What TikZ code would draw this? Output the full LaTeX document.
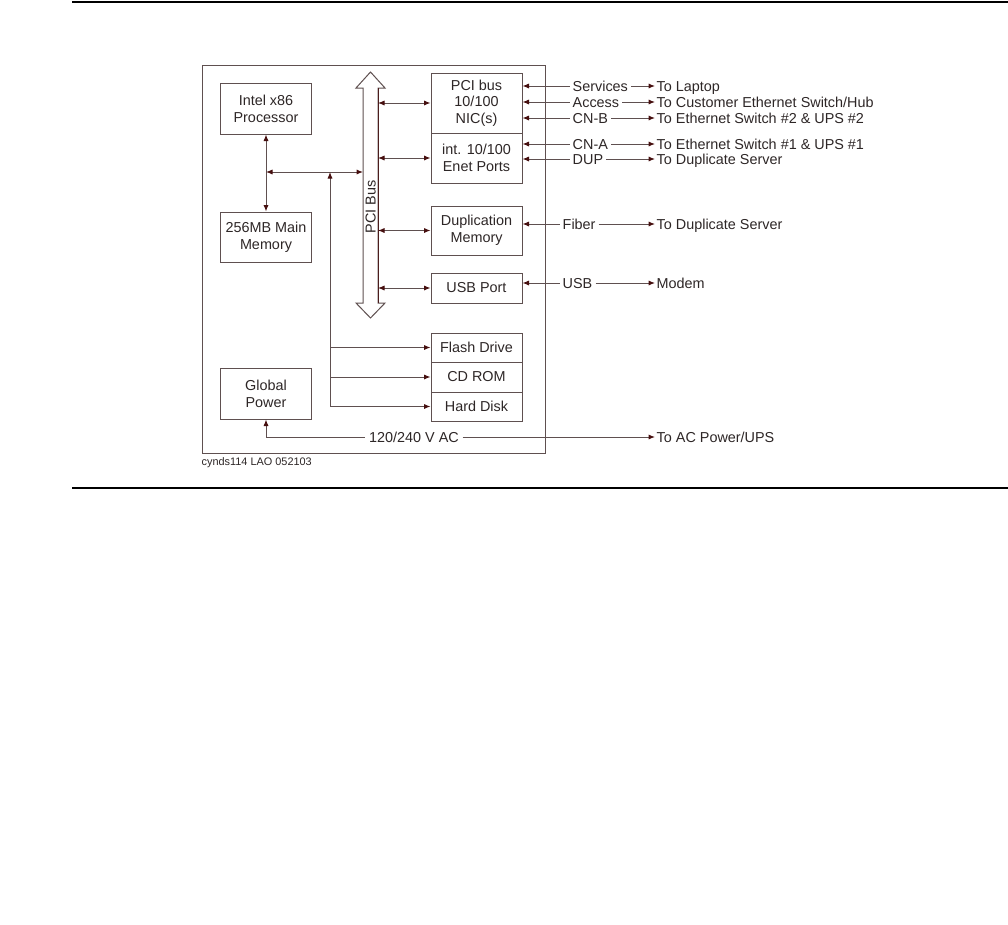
\documentclass[tikz,border=0pt]{standalone}
\usepackage{fontspec}
\setmainfont{Liberation Sans}
\usetikzlibrary{arrows.meta}
\definecolor{lc}{RGB}{95,80,80}
\definecolor{ah}{RGB}{70,15,15}
\definecolor{tc}{RGB}{45,38,38}
\begin{document}
\begin{tikzpicture}[x=1pt,y=-1pt,
  every node/.style={font=\fontsize{14.4}{16.7}\selectfont, text=tc},
  box/.style={draw=lc, line width=1pt, minimum width=91pt, inner sep=0pt, align=center},
  conn/.style={draw=lc, line width=1pt},
  arrE/.style={conn, -{Latex[length=6.5pt,width=5.2pt,color=ah]}},
  arrS/.style={conn, {Latex[length=6.5pt,width=5.2pt,color=ah]}-},
  arrB/.style={conn, {Latex[length=6.5pt,width=5.2pt,color=ah]}-{Latex[length=6.5pt,width=5.2pt,color=ah]}},
  lab/.style={inner ysep=0pt, inner xsep=3pt, text height=10.3pt, text depth=0pt, anchor=west},
  dest/.style={lab, inner xsep=1.5pt}
]
\useasboundingbox (0,0) rectangle (1008,924);

% page rules
\draw[line width=2pt] (72,2) -- (1008,2);
\draw[line width=2pt] (72,488) -- (1008,488);

% frame
\node[draw=lc, line width=1pt, minimum width=343pt, minimum height=388pt, inner sep=0pt] (frame) at (373.5,259) {};

% PCI bus arrow
\draw[conn, fill=white] (363,88) -- (356,88) -- (370.5,72) -- (385,88) -- (378,88)
  -- (378,303) -- (385,303) -- (370.5,318) -- (356,303) -- (363,303) -- cycle;
\draw[draw=ah!80!lc, line width=1pt] (378,88) -- (378,303);
\node[rotate=90, inner sep=0pt] (pcibus) at (370.7,207) {PCI Bus};
\coordinate (busL) at (363,172);
\coordinate (busR) at (378,0);

% left boxes
\node[box, minimum height=51pt] (intel) at (266,108.5) {Intel x86\\Processor};
\node[box, minimum height=50pt] (mem) at (266,237) {256MB Main\\Memory};
\node[box, minimum height=51pt] (power) at (266,393.5) {Global\\Power};

% right boxes
\node[box, minimum height=60pt] (nic) at (476.5,103) {PCI bus\\10/100\\NIC(s)};
\node[box, minimum height=50pt] (enet) at (476.5,158) {int. 10/100\\Enet Ports};
\node[box, minimum height=49pt] (dup) at (476.5,230.5) {Duplication\\Memory};
\node[box, minimum height=30pt] (usb) at (476.5,288) {USB Port};
\node[box, minimum height=29pt] (flash) at (476.5,347.5) {Flash Drive};
\node[box, minimum height=30pt] (cd) at (476.5,377) {CD ROM};
\node[box, minimum height=29pt] (hd) at (476.5,406.5) {Hard Disk};

% internal connectors
\coordinate (jl) at (266,172);
\coordinate (jm) at (330,172);
\draw[arrB] (intel.south) -- (mem.north);
\draw[arrB] (jl) -- (busL);
\draw[arrB] (jm) -- (jm |- hd.west) -- (hd.west);
\draw[arrE] (jm |- flash.west) -- (flash.west);
\draw[arrE] (jm |- cd.west) -- (cd.west);

\draw[arrB] (busR |- nic.west) -- (nic.west);
\draw[arrB] (busR |- enet.west) -- (enet.west);
\draw[arrB] (busR |- dup.west) -- (dup.west);
\draw[arrB] (busR |- usb.west) -- (usb.west);

% external labels
\node[lab] (svc) at (569.5,86) {Services};
\node[lab] (acc) at (569.5,102) {Access};
\node[lab] (cnb) at (569.5,118) {CN-B};
\node[lab] (cna) at (569.5,144) {CN-A};
\node[lab] (dupl) at (569.5,159) {DUP};
\node[lab] (fib) at (559.5,224) {Fiber};
\node[lab] (usbl) at (559.5,283) {USB};

\node[dest] (d1) at (655,86) {To Laptop};
\node[dest] (d2) at (655,102) {To Customer Ethernet Switch/Hub};
\node[dest] (d3) at (655,118) {To Ethernet Switch \#2 \& UPS \#2};
\node[dest] (d4) at (655,144) {To Ethernet Switch \#1 \& UPS \#1};
\node[dest] (d5) at (655,159) {To Duplicate Server};
\node[dest] (d6) at (655,224) {To Duplicate Server};
\node[dest] (d7) at (655,283) {Modem};

\draw[arrS] (nic.east |- svc.west) -- (svc.west);
\draw[arrS] (nic.east |- acc.west) -- (acc.west);
\draw[arrS] (nic.east |- cnb.west) -- (cnb.west);
\draw[arrS] (enet.east |- cna.west) -- (cna.west);
\draw[arrS] (enet.east |- dupl.west) -- (dupl.west);
\draw[arrS] (dup.east |- fib.west) -- (fib.west);
\draw[arrS] (usb.east |- usbl.west) -- (usbl.west);

\draw[arrE] (svc.east) -- (d1.west);
\draw[arrE] (acc.east) -- (d2.west);
\draw[arrE] (cnb.east) -- (d3.west);
\draw[arrE] (cna.east) -- (d4.west);
\draw[arrE] (dupl.east) -- (d5.west);
\draw[arrE] (fib.east) -- (d6.west);
\draw[arrE] (usbl.east) -- (d7.west);

% AC power
\node[lab, anchor=center, inner xsep=3.5pt] (ac) at (414,437) {120/240 V AC};
\node[dest] (d8) at (655,437) {To AC Power/UPS};
\draw[arrS] (power.south) -- (power.south |- ac.west) -- (ac.west);
\draw[arrE] (ac.east) -- (d8.west);

% caption
\node[lab, inner xsep=0pt, text height=7.7pt, font=\fontsize{10.9}{12}\selectfont] (cap) at (201.5,462) {cynds114 LAO 052103};
\end{tikzpicture}
\end{document}
